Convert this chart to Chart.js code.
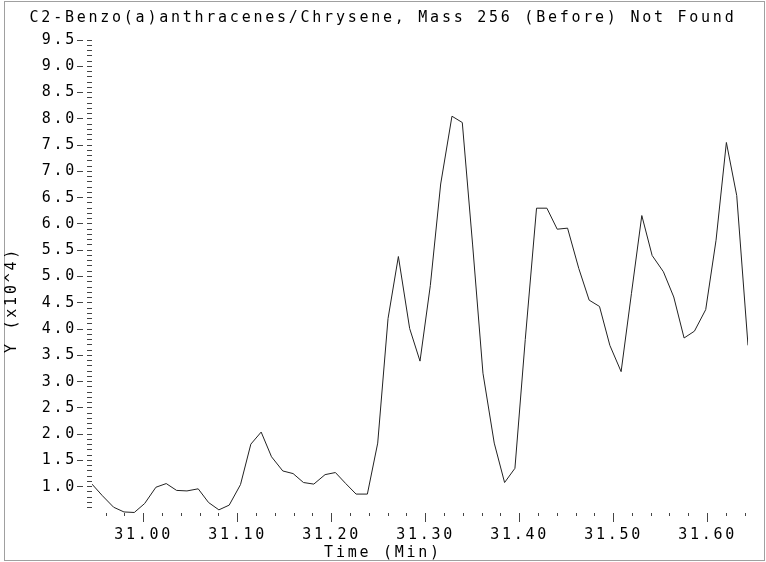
<!DOCTYPE html>
<html lang="en">
<head>
    <meta charset="UTF-8">
    <title>C2-Benzo(a)anthracenes/Chrysene, Mass 256</title>
    <style>
        html, body {
            margin: 0;
            padding: 0;
            background-color: #fff;
        }

        #wrap {
            width: 766px;
            height: 562px;
        }
    </style>
</head>
<body>
    <div id="wrap">
        <canvas id="ionChart" width="766" height="562"></canvas>
    </div>

    <script src="https://cdn.jsdelivr.net/npm/chart.js"></script>
    <script>
        // Retention times (min) of the scans
        const times = [
            30.945, 30.956, 30.968, 30.979, 30.990, 31.001, 31.013, 31.024, 31.035, 31.046,
            31.058, 31.069, 31.080, 31.091, 31.103, 31.114, 31.125, 31.136, 31.148, 31.159,
            31.170, 31.181, 31.193, 31.204, 31.215, 31.226, 31.238, 31.249, 31.260, 31.271,
            31.283, 31.294, 31.305, 31.316, 31.328, 31.339, 31.350, 31.361, 31.373, 31.384,
            31.395, 31.406, 31.418, 31.429, 31.440, 31.451, 31.463, 31.474, 31.485, 31.496,
            31.508, 31.519, 31.530, 31.541, 31.553, 31.564, 31.575, 31.586, 31.598, 31.609,
            31.620, 31.631, 31.643
        ];

        // Abundance (x10^4)
        const abundance = [
            1.05, 0.83, 0.61, 0.52, 0.51, 0.68, 0.99, 1.06, 0.93, 0.92,
            0.96, 0.70, 0.56, 0.65, 1.04, 1.81, 2.04, 1.57, 1.30, 1.25,
            1.08, 1.05, 1.23, 1.27, 1.06, 0.86, 0.86, 1.83, 4.20, 5.38,
            4.01, 3.39, 4.83, 6.76, 8.05, 7.93, 5.60, 3.16, 1.83, 1.08,
            1.35, 3.80, 6.30, 6.30, 5.90, 5.92, 5.15, 4.55, 4.43, 3.69,
            3.19, 4.68, 6.16, 5.40, 5.09, 4.61, 3.83, 3.96, 4.37, 5.69,
            7.55, 6.54, 3.69
        ];

        const chartTitle = 'C2-Benzo(a)anthracenes/Chrysene, Mass 256 (Before) Not Found';
        const xTitle = 'Time (Min)';
        const yTitle = 'Y (x10^4)';

        const FONT = "'DejaVu Sans Mono', 'Liberation Mono', monospace";
        const SPACING = '2.75px';

        function isStep(v, n) {
            return Math.abs(v * n - Math.round(v * n)) < 1e-6;
        }

        // spread letters a bit, the original font is wide
        const spacingPlugin = {
            id: 'spacing',
            beforeUpdate(chart) { chart.ctx.letterSpacing = SPACING; },
            beforeDraw(chart) { chart.ctx.letterSpacing = SPACING; }
        };

        // rotated y title and the grey frame round the picture
        const decorPlugin = {
            id: 'decor',
            afterDraw(chart) {
                const ctx = chart.ctx;
                ctx.save();
                ctx.strokeStyle = '#a0a0a0';
                ctx.lineWidth = 1;
                ctx.strokeRect(4.5, 1.5, 760, 559);

                ctx.translate(12, 300);
                ctx.rotate(-Math.PI / 2);
                ctx.font = '15px ' + FONT;
                ctx.fillStyle = '#000';
                ctx.textAlign = 'center';
                ctx.textBaseline = 'middle';
                ctx.fillText(yTitle, 0, 0);
                ctx.restore();
            }
        };

        const ctx = document.getElementById('ionChart').getContext('2d');
        const ionChart = new Chart(ctx, {
            type: 'line',
            data: {
                datasets: [{
                    data: times.map((t, i) => ({ x: t, y: abundance[i] })),
                    borderColor: '#222',
                    borderWidth: 1,
                    pointRadius: 0,
                    tension: 0,
                    fill: false
                }]
            },
            options: {
                responsive: false,
                animation: false,
                events: [],
                layout: {
                    // same on both sides so the titles stay centred on the canvas
                    padding: { left: 18, right: 18, top: 0, bottom: 0 }
                },
                plugins: {
                    legend: { display: false },
                    tooltip: { enabled: false },
                    title: {
                        display: true,
                        text: chartTitle,
                        color: '#000',
                        font: { family: FONT, size: 15, weight: 'normal', lineHeight: 1 },
                        padding: { top: 11, bottom: 14 }
                    },
                    subtitle: {
                        display: true,
                        position: 'bottom',
                        text: xTitle,
                        color: '#000',
                        font: { family: FONT, size: 15, weight: 'normal', lineHeight: 1 },
                        padding: { top: 0, bottom: 1 }
                    }
                },
                scales: {
                    x: {
                        type: 'linear',
                        min: 30.945,
                        max: 31.643,
                        border: { display: false },
                        grid: {
                            drawOnChartArea: false,
                            tickLength: 9,
                            tickColor: '#444',
                            tickBorderDash: c => isStep(c.tick.value, 10) ? [] : [3, 40]
                        },
                        ticks: {
                            stepSize: 0.02,
                            includeBounds: false,
                            autoSkip: false,
                            maxRotation: 0,
                            padding: 4,
                            color: '#000',
                            font: { family: FONT, size: 15 },
                            callback: v => isStep(v, 10) ? v.toFixed(2) : ''
                        },
                        afterFit: s => { s.height = 33; }
                    },
                    y: {
                        min: 0.5,
                        max: 9.5,
                        border: { display: false },
                        grid: {
                            drawOnChartArea: false,
                            tickLength: 15,
                            tickColor: c => c.tick.value < 0.55 ? 'rgba(0,0,0,0)' : '#444',
                            tickBorderDash: c => isStep(c.tick.value, 2) ? [6, 4, 5, 40] : [0, 10, 5, 40]
                        },
                        ticks: {
                            stepSize: 0.1,
                            autoSkip: false,
                            padding: 0,
                            color: '#000',
                            font: { family: FONT, size: 15 },
                            callback: v => (isStep(v, 2) && v > 0.9) ? v.toFixed(1) : ''
                        },
                        afterFit: s => { s.width = 74; }
                    }
                }
            },
            plugins: [spacingPlugin, decorPlugin]
        });
    </script>
</body>
</html>
